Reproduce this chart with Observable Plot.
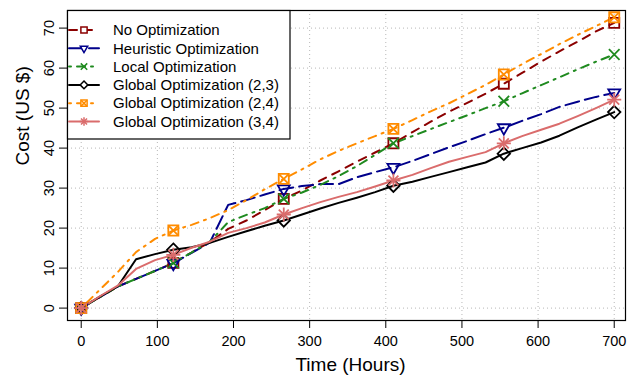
<!DOCTYPE html>
<html><head><meta charset="utf-8">
<script src="https://cdn.jsdelivr.net/npm/d3@7"></script>
<script src="https://cdn.jsdelivr.net/npm/@observablehq/plot@0.6"></script>
<style>body{margin:0;background:#fff} #wrap{position:relative;width:627px;height:383px}</style>
</head><body><div id="wrap"></div>
<script>
// ---- data ----
const hours = [0,24,48,72,97,121,145,169,193,217,241,266,290,314,338,362,386,410,435,459,483,507,531,555,579,604,628,652,676,700];
const markerIdx = [0,5,11,17,23,29];
const seriesNames = ["No Optimization","Heuristic Optimization","Local Optimization","Global Optimization (2,3)","Global Optimization (2,4)","Global Optimization (3,4)"];
const noOpt     = [0,2.7,5.4,7.3,9.3,11.3,13.9,16.5,19.8,21.9,24.5,27.3,29.4,31.9,34.2,36.6,38.9,41.2,44.0,46.6,49.1,51.3,53.6,56.1,58.8,61.6,64.2,66.6,69.2,71.3];
const heuristic = [0,2.7,5.4,7.3,9.3,11.2,13.8,16.4,25.8,27.0,28.4,29.8,30.5,31.0,31.0,32.7,34.0,35.2,36.8,38.5,40.2,41.8,43.5,45.1,46.8,48.5,50.3,51.6,52.8,53.8];
const local     = [0,2.7,5.4,7.3,9.3,11.3,13.9,16.6,21.5,23.3,25.0,27.3,28.9,30.8,33.0,35.5,38.3,41.2,43.0,44.75,46.5,48.2,50.0,51.7,53.7,55.75,57.7,59.7,61.6,63.4];
const global23  = [0,2.8,5.4,12.2,13.5,14.6,15.2,16.3,17.8,19.2,20.6,21.9,23.4,24.9,26.3,27.6,29.0,30.6,31.6,32.8,34.0,35.2,36.4,38.6,40.0,41.4,43.1,45.2,47.1,49.0];
const global24  = [0,4.5,9.0,14.0,17.3,19.4,20.8,22.5,24.5,27.0,29.7,32.3,34.7,37.2,39.3,41.2,43.0,44.8,47.0,49.2,51.2,53.5,55.8,58.4,61.0,63.5,66.0,68.3,70.5,72.7];
const global34  = [0,2.9,5.6,9.8,12.0,13.3,15.1,16.6,18.8,20.0,21.4,23.4,25.0,26.5,27.8,29.0,30.4,31.9,33.3,35.0,36.6,37.8,39.0,41.2,43.0,44.6,46.1,48.0,50.0,52.1];
const xTicks = [0,100,200,300,400,500,600,700];
const yTicks = [0,10,20,30,40,50,60,70];

// ---- styles ----
const colors = ["#8B0000","#00008B","#1F8A1F","#000000","#FF8C00","#DA6C6C"];
const dashes = ["8,7","14,6","2,6,8,6",null,"2,6,8,6",null];
// marker glyphs: list of [symbol, r, rotate]
const glyphs = [
  [["square2",6.4,0]],
  [["triangle2",5.7,180]],
  [["times",4.9,0]],
  [["diamond2",5.6,0]],
  [["square2",6.4,0],["times",4.5,0]],
  [["plus",4.6,0],["times",4.6,0]]
];
const FONT = "'Liberation Sans', Arial, Helvetica, sans-serif";

const valuesList = [noOpt, heuristic, local, global23, global24, global34];
const tables = valuesList.map((vals,i)=>hours.map((h,j)=>({h, v: vals[j], s: seriesNames[i]})));

const lineMarks = tables.map((t,i)=>Plot.line(t,{x:"h",y:"v",stroke:colors[i],strokeWidth:2,
  strokeDasharray:dashes[i]||undefined,strokeLinecap:"round",strokeLinejoin:"round"}));
const dotMarks = [];
tables.forEach((t,i)=>{
  const pts = markerIdx.map(k=>t[k]);
  glyphs[i].forEach(([sym,r,rot])=>{
    dotMarks.push(Plot.dot(pts,{x:"h",y:"v",symbol:sym,r,rotate:rot,stroke:colors[i],strokeWidth:1.8,fill:"none"}));
  });
});

const chart = Plot.plot({
  width:627, height:383,
  marginLeft:67, marginRight:2, marginTop:10, marginBottom:63,
  x:{domain:[-18,714.8]},
  y:{domain:[-3.1,74.4]},
  style:{fontFamily:FONT, fontSize:"14.5px", background:"white", color:"black"},
  marks:[
    Plot.gridX(xTicks,{stroke:"#b8b8b8",strokeOpacity:1,strokeDasharray:"1,3"}),
    Plot.gridY(yTicks,{stroke:"#b8b8b8",strokeOpacity:1,strokeDasharray:"1,3"}),
    ...lineMarks,
    ...dotMarks,
    Plot.frame({stroke:"black",strokeWidth:1.2}),
    Plot.axisX(xTicks,{tickSize:8,tickPadding:7,fontSize:14.5,label:null,stroke:"black"}),
    Plot.axisY(yTicks,{tickSize:8,tickPadding:6,tickRotate:-90,fontSize:14.5,label:null,stroke:"black"}),
    Plot.text(["Time (Hours)"],{frameAnchor:"bottom",dy:50,dx:4,fontSize:19,fill:"black"}),
    Plot.text(["Cost (US $)"],{frameAnchor:"left",dx:-45,rotate:-90,fontSize:19,fill:"black"})
  ]
});
document.getElementById("wrap").appendChild(chart);

// ---- legend (inside the plot, top-left) ----
const svg = d3.select(chart);
const lg = svg.append("g").attr("class","legend");
const L = {x:67.5, y:10.5, w:222.5, h:128.5, row0:30, step:18.3, lineX0:69, lineX1:99, textX:113, scale:0.62};
lg.append("rect").attr("x",L.x).attr("y",L.y).attr("width",L.w).attr("height",L.h)
  .attr("fill","white").attr("stroke","black").attr("stroke-width",1.2);
const symMap = {square2:d3.symbolSquare2,triangle2:d3.symbolTriangle2,times:d3.symbolTimes,diamond2:d3.symbolDiamond2,plus:d3.symbolPlus};
seriesNames.forEach((name,i)=>{
  const y = L.row0 + i*L.step;
  lg.append("line").attr("x1",L.lineX0).attr("x2",L.lineX1).attr("y1",y).attr("y2",y)
    .attr("stroke",colors[i]).attr("stroke-width",2).attr("stroke-linecap","round")
    .attr("stroke-dasharray",dashes[i]||null);
  glyphs[i].forEach(([sym,r,rot])=>{
    const rr = r*L.scale;
    lg.append("path").attr("d",d3.symbol(symMap[sym],Math.PI*rr*rr)())
      .attr("transform",`translate(${(L.lineX0+L.lineX1)/2},${y}) rotate(${rot})`)
      .attr("fill","white").attr("stroke",colors[i]).attr("stroke-width",1.5);
  });
  lg.append("text").attr("x",L.textX).attr("y",y).attr("dy","0.35em").attr("text-anchor","start")
    .attr("font-family",FONT).attr("font-size",15).attr("fill","black").text(name);
});
</script></body></html>
